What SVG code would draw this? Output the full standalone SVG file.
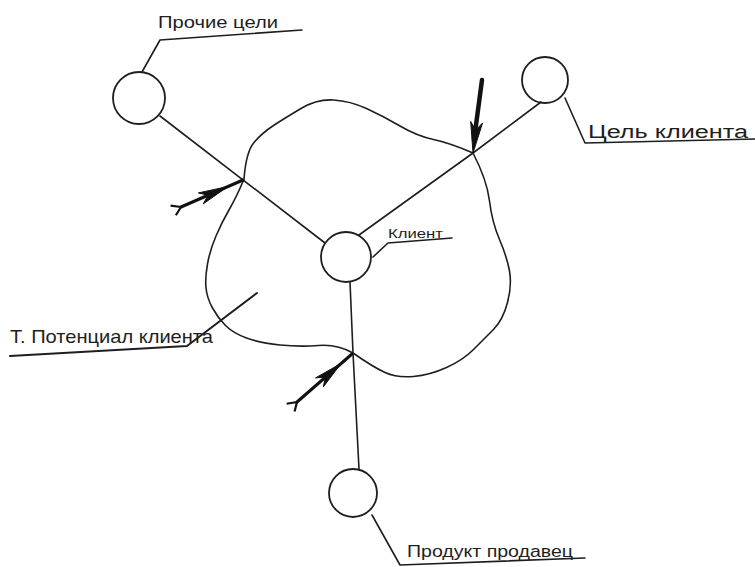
<svg xmlns="http://www.w3.org/2000/svg" width="755" height="567" viewBox="0 0 755 567">
<style>
.ln{fill:none;stroke:#1e1e1e;stroke-width:1.6;stroke-linecap:round;stroke-linejoin:round}
.nd{fill:none;stroke:#1e1e1e;stroke-width:1.8}
.ar{fill:none;stroke:#111;stroke-width:3;stroke-linecap:round}
.hd{fill:#111;stroke:#111;stroke-width:1;stroke-linejoin:round}
.tx{font-family:"Liberation Sans","DejaVu Sans",sans-serif;fill:#1e1e1e}
</style>
<defs>
<marker id="tail" markerUnits="userSpaceOnUse" viewBox="0 0 12 14" refX="10" refY="7" markerWidth="12" markerHeight="14" orient="auto">
<path d="M10,7 L1,1.5 M10,7 L2,12.5" fill="none" stroke="#111" stroke-width="2.2"/>
</marker>
</defs>
<g id="connectors">
<path id="blob" class="ln" d="M244,179 Q246,152 254,142.5 Q262,133 273.5,125.5 Q285,118 301,108.5 Q317,99 333.5,100 Q350,101 366.5,108.5 Q383,116 400,126 Q417,136 433.5,139.5 Q450,143 473,153 Q487,180 489.5,201 Q492,222 499.5,239.5 Q507,257 509.5,271 Q512,285 507.5,302.5 Q503,320 493,330 Q483,340 473,350 Q463,360 446.5,367.5 Q430,375 413.5,376.5 Q397,378 385,372.5 Q373,367 353,353 Q337,344 318.5,345.5 Q300,347 280,345 Q260,343 246.5,338 Q233,333 225.5,325.5 Q218,318 212.5,308 Q207,298 206,288 Q205,278 207.5,264 Q210,250 216,236 Q222,222 229.5,209 Q237,196 244,179 Z"/>
<path class="ln" d="M160,116 L325,243"/>
<path class="ln" d="M359,235 L473,153 L541,102"/>
<path class="ln" d="M350,282 L353,353 L359,469"/>
<path class="ar" d="M482,80 L474,140" style="stroke-width:4.5"/>
<polygon class="hd" points="473,153 482.6,122.9 475.7,130.2 470.7,121.5"/>
<path class="ar" d="M181,207 L243,180" marker-start="url(#tail)"/>
<polygon class="hd" points="228,186.5 203.2,203.9 208.2,195.2 198.4,192.9"/>
<path class="ar" d="M297,402 L352,354" marker-start="url(#tail)"/>
<polygon class="hd" points="341,363.5 323.3,386.9 325.4,377.1 315.5,377.9"/>
<path class="ln" d="M142,72 L160,40 L302,30"/>
<path class="ln" d="M565,98 L585,143 L755,139"/>
<path class="ln" d="M373,257 L388,243 L452,238"/>
<path class="ln" d="M10,356 L187,346 L257,293" style="stroke-width:2"/>
<path class="ln" d="M372,515 L400,565 L585,558"/>
</g>
<g id="node-prochie">
<circle class="nd" cx="139" cy="98" r="26"/>
<text class="tx" x="158" y="28" font-size="17" textLength="120" lengthAdjust="spacingAndGlyphs">Прочие цели</text>
</g>
<g id="node-tsel">
<circle class="nd" cx="545" cy="80" r="23"/>
<text class="tx" x="588" y="138" font-size="18" textLength="160" lengthAdjust="spacingAndGlyphs">Цель клиента</text>
</g>
<g id="node-klient">
<circle class="nd" cx="346" cy="257" r="25"/>
<text class="tx" x="388" y="238" font-size="13" textLength="55" lengthAdjust="spacingAndGlyphs">Клиент</text>
</g>
<g id="node-produkt">
<circle class="nd" cx="353" cy="493" r="24"/>
<text class="tx" x="407" y="557" font-size="16" textLength="166" lengthAdjust="spacingAndGlyphs">Продукт продавец</text>
</g>
<g id="label-potentsial">
<text class="tx" x="10" y="343" font-size="19" textLength="203" lengthAdjust="spacingAndGlyphs">Т. Потенциал клиента</text>
</g>
</svg>
